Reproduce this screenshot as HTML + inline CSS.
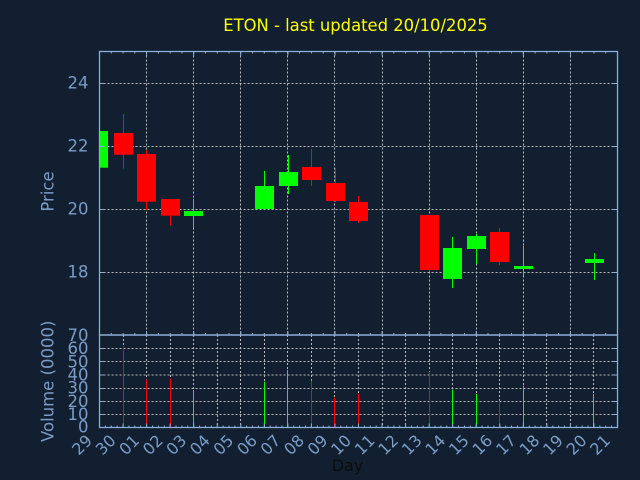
<!DOCTYPE html>
<html><head><meta charset="utf-8"><style>
html,body{margin:0;padding:0;background:#111f30;}
svg{display:block;}
text{font-family:"DejaVu Sans","Liberation Sans",sans-serif;}
</style></head><body>
<svg width="640" height="480" viewBox="0 0 640 480" xmlns="http://www.w3.org/2000/svg">
<defs>
<clipPath id="cp"><rect x="99.5" y="51.5" width="518" height="283.5"/></clipPath>
</defs>
<rect width="640" height="480" fill="#111f30"/>
<text x="355.5" y="31" font-size="16.4" fill="#ffff00" text-anchor="middle">ETON - last updated 20/10/2025</text>

<!-- price grid -->
<g stroke="#bcbcbc" stroke-width="1" stroke-dasharray="2 2" fill="none">
<line x1="99.5" y1="83.5" x2="617.5" y2="83.5"/>
<line x1="99.5" y1="146.5" x2="617.5" y2="146.5"/>
<line x1="99.5" y1="209.5" x2="617.5" y2="209.5"/>
<line x1="99.5" y1="272.5" x2="617.5" y2="272.5"/>
<line x1="146.5" y1="51.5" x2="146.5" y2="335"/>
<line x1="193.5" y1="51.5" x2="193.5" y2="335"/>
<line x1="240.5" y1="51.5" x2="240.5" y2="335"/>
<line x1="287.5" y1="51.5" x2="287.5" y2="335"/>
<line x1="334.5" y1="51.5" x2="334.5" y2="335"/>
<line x1="382.5" y1="51.5" x2="382.5" y2="335"/>
<line x1="429.5" y1="51.5" x2="429.5" y2="335"/>
<line x1="476.5" y1="51.5" x2="476.5" y2="335"/>
<line x1="523.5" y1="51.5" x2="523.5" y2="335"/>
<line x1="570.5" y1="51.5" x2="570.5" y2="335"/>
</g>

<!-- volume grid -->
<g stroke="#bcbcbc" stroke-width="1" stroke-dasharray="2 2" fill="none">
<line x1="99.5" y1="414.5" x2="617.5" y2="414.5"/>
<line x1="99.5" y1="401.5" x2="617.5" y2="401.5"/>
<line x1="99.5" y1="388.5" x2="617.5" y2="388.5"/>
<line x1="99.5" y1="375" x2="617.5" y2="375"/>
<line x1="99.5" y1="361.5" x2="617.5" y2="361.5"/>
<line x1="99.5" y1="348.5" x2="617.5" y2="348.5"/>
<line x1="123.5" y1="335" x2="123.5" y2="427.5"/>
<line x1="146.5" y1="335" x2="146.5" y2="427.5"/>
<line x1="170.5" y1="335" x2="170.5" y2="427.5"/>
<line x1="193.5" y1="335" x2="193.5" y2="427.5"/>
<line x1="217.5" y1="335" x2="217.5" y2="427.5"/>
<line x1="240.5" y1="335" x2="240.5" y2="427.5"/>
<line x1="264.5" y1="335" x2="264.5" y2="427.5"/>
<line x1="287.5" y1="335" x2="287.5" y2="427.5"/>
<line x1="311.5" y1="335" x2="311.5" y2="427.5"/>
<line x1="334.5" y1="335" x2="334.5" y2="427.5"/>
<line x1="358.5" y1="335" x2="358.5" y2="427.5"/>
<line x1="382.5" y1="335" x2="382.5" y2="427.5"/>
<line x1="405.5" y1="335" x2="405.5" y2="427.5"/>
<line x1="429.5" y1="335" x2="429.5" y2="427.5"/>
<line x1="452.5" y1="335" x2="452.5" y2="427.5"/>
<line x1="476.5" y1="335" x2="476.5" y2="427.5"/>
<line x1="499.5" y1="335" x2="499.5" y2="427.5"/>
<line x1="523.5" y1="335" x2="523.5" y2="427.5"/>
<line x1="546.5" y1="335" x2="546.5" y2="427.5"/>
<line x1="570.5" y1="335" x2="570.5" y2="427.5"/>
<line x1="593.5" y1="335" x2="593.5" y2="427.5"/>
</g>

<!-- candles -->
<g clip-path="url(#cp)">
<g fill="#00ff00">
<rect x="90" y="131" width="18" height="36.7"/>
<rect x="193" y="198.7" width="1" height="28.6"/><rect x="184" y="211" width="19" height="5"/>
<rect x="264" y="171" width="1" height="38"/><rect x="255" y="186" width="19" height="23"/>
<rect x="288" y="155" width="1" height="39"/><rect x="279" y="172" width="19" height="14"/>
<rect x="452" y="237" width="1" height="51"/><rect x="443" y="248" width="19" height="31"/>
<rect x="476" y="234" width="1" height="30"/><rect x="467" y="236" width="19" height="13"/>
<rect x="523" y="246" width="1" height="30"/><rect x="514" y="266" width="19" height="3"/>
<rect x="594" y="253" width="1" height="27"/><rect x="585" y="259" width="19" height="4"/>
</g>
<g fill="#ff0000">
<rect x="123" y="114" width="1" height="54.7"/><rect x="114" y="133" width="19" height="21.7"/>
<rect x="146" y="150" width="1" height="60"/><rect x="137" y="154" width="19" height="47.7"/>
<rect x="170" y="199" width="1" height="26.7"/><rect x="161" y="199" width="19" height="16.7"/>
<rect x="311" y="149" width="1" height="37"/><rect x="302" y="167" width="19" height="13"/>
<rect x="335" y="168" width="1" height="34"/><rect x="326" y="183" width="19" height="18"/>
<rect x="358" y="196" width="1" height="27"/><rect x="349" y="202" width="19" height="19"/>
<rect x="429" y="215" width="1" height="56.7"/><rect x="420" y="215" width="19" height="55"/>
<rect x="499" y="228" width="1" height="37"/><rect x="490" y="232" width="19" height="30"/>
</g>
</g>

<!-- volume bars -->
<g fill="#ff0000">
<rect x="123" y="346.7" width="1" height="80.6"/>
<rect x="146" y="379.3" width="1" height="48"/>
<rect x="170" y="378.7" width="1" height="48.6"/>
<rect x="311" y="380.7" width="1" height="46.6"/>
<rect x="334" y="397.7" width="1" height="29.6"/>
<rect x="358" y="393.7" width="1" height="33.6"/>
<rect x="429" y="371.7" width="1" height="55.6"/>
<rect x="499" y="400.7" width="1" height="26.6"/>
</g>
<g fill="#00ff00">
<rect x="193" y="390" width="1" height="37.3"/>
<rect x="264" y="381.7" width="1" height="45.6"/>
<rect x="287" y="370" width="1" height="57.3"/>
<rect x="452" y="389.7" width="1" height="37.6"/>
<rect x="476" y="394" width="1" height="33.3"/>
<rect x="523" y="385.7" width="1" height="41.6"/>
<rect x="593" y="393.7" width="1" height="33.6"/>
</g>

<!-- spines -->
<g stroke="#8cadd8" stroke-width="1.3" fill="none">
<rect x="99.5" y="51.5" width="518" height="283.5"/>
<rect x="99.5" y="335" width="518" height="92.5"/>
</g>

<!-- ticks -->
<g stroke="#8cadd8" fill="none">
<line x1="99" y1="52.5" x2="618" y2="52.5" stroke-width="2" stroke-dasharray="1 10.7727"/>
<line x1="99" y1="53.5" x2="618" y2="53.5" stroke-width="4" stroke-dasharray="1 46.0909"/>
<line x1="99" y1="334" x2="618" y2="334" stroke-width="2" stroke-dasharray="1 10.7727"/>
<line x1="99" y1="333" x2="618" y2="333" stroke-width="4" stroke-dasharray="1 46.0909"/>
<line x1="99" y1="426.5" x2="618" y2="426.5" stroke-width="2" stroke-dasharray="1 4.8864"/>
<line x1="99" y1="425.5" x2="618" y2="425.5" stroke-width="4" stroke-dasharray="1 22.5455"/>
<g stroke-width="1">
<line x1="99.5" y1="83.5" x2="104.5" y2="83.5"/><line x1="612.5" y1="83.5" x2="617.5" y2="83.5"/>
<line x1="99.5" y1="146.5" x2="104.5" y2="146.5"/><line x1="612.5" y1="146.5" x2="617.5" y2="146.5"/>
<line x1="99.5" y1="209.5" x2="104.5" y2="209.5"/><line x1="612.5" y1="209.5" x2="617.5" y2="209.5"/>
<line x1="99.5" y1="272.5" x2="104.5" y2="272.5"/><line x1="612.5" y1="272.5" x2="617.5" y2="272.5"/>
<line x1="99.5" y1="414.5" x2="104.5" y2="414.5"/><line x1="612.5" y1="414.5" x2="617.5" y2="414.5"/>
<line x1="99.5" y1="401.5" x2="104.5" y2="401.5"/><line x1="612.5" y1="401.5" x2="617.5" y2="401.5"/>
<line x1="99.5" y1="388.5" x2="104.5" y2="388.5"/><line x1="612.5" y1="388.5" x2="617.5" y2="388.5"/>
<line x1="99.5" y1="375" x2="104.5" y2="375"/><line x1="612.5" y1="375" x2="617.5" y2="375"/>
<line x1="99.5" y1="361.5" x2="104.5" y2="361.5"/><line x1="612.5" y1="361.5" x2="617.5" y2="361.5"/>
<line x1="99.5" y1="348.5" x2="104.5" y2="348.5"/><line x1="612.5" y1="348.5" x2="617.5" y2="348.5"/>
</g>
</g>

<!-- y tick labels -->
<g font-size="16.5" fill="#7b9cc6" text-anchor="end">
<text x="88.5" y="88.5">24</text>
<text x="88.5" y="151.5">22</text>
<text x="88.5" y="214.5">20</text>
<text x="88.5" y="277.5">18</text>
<text x="88.5" y="341">70</text>
<text x="88.5" y="354">60</text>
<text x="88.5" y="367.3">50</text>
<text x="88.5" y="380.5">40</text>
<text x="88.5" y="393.7">30</text>
<text x="88.5" y="406.9">20</text>
<text x="88.5" y="420">10</text>
<text x="88.5" y="432.5">0</text>
</g>

<!-- axis labels -->
<g font-size="16.5" fill="#7b9cc6" text-anchor="middle">
<text transform="translate(53.5,191.5) rotate(-90)">Price</text>
<text transform="translate(53.5,381.3) rotate(-90)">Volume (0000)</text>
</g>
<text x="347.5" y="471" font-size="16" fill="#0c0c0c" text-anchor="middle">Day</text>

<!-- x tick labels -->
<g font-size="16" fill="#7b9cc6" text-anchor="end">
<text transform="translate(93.2,441.6) rotate(-45)">29</text>
<text transform="translate(116.8,441.6) rotate(-45)">30</text>
<text transform="translate(140.3,441.6) rotate(-45)">01</text>
<text transform="translate(163.9,441.6) rotate(-45)">02</text>
<text transform="translate(187.4,441.6) rotate(-45)">03</text>
<text transform="translate(211.0,441.6) rotate(-45)">04</text>
<text transform="translate(234.5,441.6) rotate(-45)">05</text>
<text transform="translate(258.1,441.6) rotate(-45)">06</text>
<text transform="translate(281.6,441.6) rotate(-45)">07</text>
<text transform="translate(305.2,441.6) rotate(-45)">08</text>
<text transform="translate(328.7,441.6) rotate(-45)">09</text>
<text transform="translate(352.2,441.6) rotate(-45)">10</text>
<text transform="translate(375.8,441.6) rotate(-45)">11</text>
<text transform="translate(399.3,441.6) rotate(-45)">12</text>
<text transform="translate(422.9,441.6) rotate(-45)">13</text>
<text transform="translate(446.4,441.6) rotate(-45)">14</text>
<text transform="translate(470.0,441.6) rotate(-45)">15</text>
<text transform="translate(493.5,441.6) rotate(-45)">16</text>
<text transform="translate(517.1,441.6) rotate(-45)">17</text>
<text transform="translate(540.6,441.6) rotate(-45)">18</text>
<text transform="translate(564.1,441.6) rotate(-45)">19</text>
<text transform="translate(587.7,441.6) rotate(-45)">20</text>
<text transform="translate(611.2,441.6) rotate(-45)">21</text>
</g>
</svg>
</body></html>
